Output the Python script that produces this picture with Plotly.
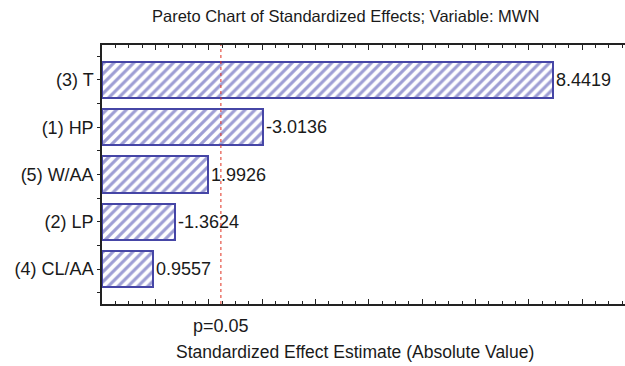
import plotly.graph_objects as go

categories = ["(3) T", "(1) HP", "(5) W/AA", "(2) LP", "(4) CL/AA"]
effects = [8.4419, -3.0136, 1.9926, -1.3624, 0.9557]
positions = [4, 3, 2, 1, 0]
p_crit = 2.228
p_label = "p=0.05"
title = "Pareto Chart of Standardized Effects; Variable: MWN"
x_title = "Standardized Effect Estimate (Absolute Value)"

font_family = "Liberation Sans, Arial, sans-serif"
text_col = "#1a1a1a"

fig = go.Figure()
fig.add_trace(go.Bar(
    x=[abs(v) for v in effects],
    y=positions,
    orientation="h",
    width=0.77,
    text=[f"{v:.4f}" for v in effects],
    textposition="outside",
    cliponaxis=False,
    textfont=dict(family=font_family, size=18, color=text_col),
    marker=dict(
        color="white",
        line=dict(color="#4646a6", width=2),
        pattern=dict(shape="/", fgcolor="#3e3eaa", bgcolor="white", size=7, solidity=0.45),
    ),
    showlegend=False,
))

fig.add_shape(type="line", x0=p_crit, x1=p_crit, y0=0, y1=1, xref="x", yref="paper",
              line=dict(color="#e03020", width=1, dash="dot"))

L, R, T, B = 102, 0, 45, 62
W, H = 625, 366
plot_w = W - L - R
plot_h = H - T - B

def px_to_paper(px, py):
    return (px - L) / plot_w, (H - B - py) / plot_h

tx, ty = px_to_paper(345, 16)
_, py = px_to_paper(0, 326)
bx, by = px_to_paper(355, 352)

fig.update_layout(
    width=W, height=H,
    margin=dict(l=L, r=R, t=T, b=B),
    paper_bgcolor="white", plot_bgcolor="white",
    font=dict(family=font_family, color=text_col),
    bargap=0,
    xaxis=dict(
        range=[0, 9.8], showgrid=False, zeroline=False,
        showline=True, linecolor="#222", linewidth=1.5, mirror="ticks",
        ticks="inside", ticklen=5, tickcolor="#222", dtick=1, tick0=0,
        showticklabels=False,
        minor=dict(ticks="inside", ticklen=3, dtick=0.25, tick0=0, tickcolor="#222", showgrid=False),
    ),
    yaxis=dict(
        range=[-0.74, 4.74], showgrid=False, zeroline=False,
        showline=True, linecolor="#222", linewidth=1.5,
        tickmode="array", tickvals=positions, ticktext=categories,
        ticks="outside", ticklen=3, tickcolor="#222",
        tickfont=dict(family=font_family, size=18, color=text_col),
        minor=dict(ticks="outside", ticklen=3, dtick=0.5, tick0=0, tickcolor="#222", showgrid=False),
    ),
    annotations=[
        dict(text=title, x=tx, y=ty, xref="paper", yref="paper", showarrow=False,
             font=dict(size=16.5, color=text_col), xanchor="center", yanchor="middle"),
        dict(text=p_label, x=p_crit, y=py, xref="x", yref="paper", showarrow=False,
             font=dict(size=18, color=text_col), xanchor="center", yanchor="middle"),
        dict(text=x_title, x=bx, y=by, xref="paper", yref="paper", showarrow=False,
             font=dict(size=17.5, color=text_col), xanchor="center", yanchor="middle"),
    ],
)

fig.write_html("out.html")
